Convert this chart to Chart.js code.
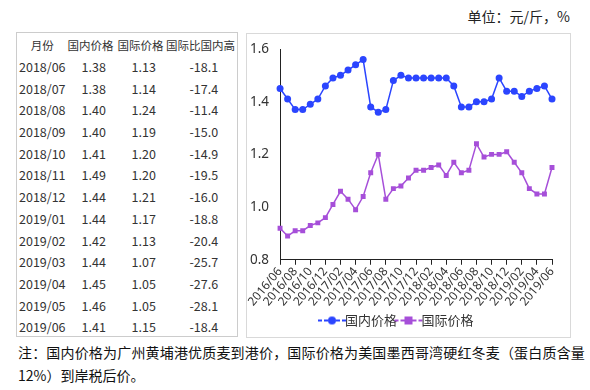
<!DOCTYPE html>
<html>
<head>
<meta charset="utf-8">
<script src="https://cdn.jsdelivr.net/npm/chart.js@4"></script>
<style>
  body { margin: 0; width: 590px; height: 390px; background: #fff; position: relative; font-family: "Noto Sans CJK SC", "Noto Sans", sans-serif; color: #333; }
  #unit { position: absolute; right: 20px; top: 6px; font-size: 14px; color: #222; }
  #tbl { position: absolute; left: 16px; top: 32px; width: 222px; height: 305px; border: 1px solid #ccc; box-sizing: border-box; }
  #tbl table { border-collapse: collapse; font-size: 12.5px; margin-left: 2px; margin-top: 1px; table-layout: fixed; }
  #tbl td, #tbl th { padding: 0; height: 21.7px; font-weight: normal; white-space: nowrap; }
  #tbl th { font-size: 11.5px; }
  #box { position: absolute; left: 246px; top: 33px; width: 325px; height: 305px; border: 1px solid #d9d9d9; box-sizing: border-box; }
  #note { position: absolute; left: 18px; top: 341px; font-size: 14px; line-height: 23px; white-space: nowrap; color: #111; }
</style>
</head>
<body>
<div id="unit">单位：元/斤，%</div>
<div id="tbl"><table id="t"></table></div>
<div id="box"><canvas id="c" width="323" height="303"></canvas></div>
<div id="note"><span id="n1">注：国内价格为广州黄埔港优质麦到港价，国际价格为美国墨西哥湾硬红冬麦（蛋白质含量</span><br>12%）到岸税后价。</div>
<script>
// monthly series, 2016/06 - 2019/06
const months = [
  '2016/06','2016/07','2016/08','2016/09','2016/10','2016/11','2016/12',
  '2017/01','2017/02','2017/03','2017/04','2017/05','2017/06','2017/07','2017/08','2017/09','2017/10','2017/11','2017/12',
  '2018/01','2018/02','2018/03','2018/04','2018/05','2018/06','2018/07','2018/08','2018/09','2018/10','2018/11','2018/12',
  '2019/01','2019/02','2019/03','2019/04','2019/05','2019/06'
];
const domestic = [
  1.45,1.41,1.37,1.37,1.39,1.41,1.46,
  1.49,1.50,1.52,1.54,1.56,1.38,1.36,1.37,1.48,1.50,1.49,1.49,
  1.49,1.49,1.49,1.49,1.46,1.38,1.38,1.40,1.40,1.41,1.49,1.44,
  1.44,1.42,1.44,1.45,1.46,1.41
];
const intl = [
  0.92,0.89,0.91,0.91,0.93,0.94,0.96,
  1.01,1.06,1.03,0.99,1.04,1.13,1.20,1.03,1.07,1.08,1.11,1.14,
  1.14,1.15,1.16,1.12,1.17,1.13,1.14,1.24,1.19,1.20,1.20,1.21,
  1.17,1.13,1.07,1.05,1.05,1.15
];
// table (last 13 months)
const tableHeader = ['月份', '国内价格', '国际价格', '国际比国内高'];
const tableGap = ['-18.1','-17.4','-11.4','-15.0','-14.9','-19.5','-16.0','-18.8','-20.4','-25.7','-27.6','-28.1','-18.4'];
const yTicks = [0.8, 1.0, 1.2, 1.4, 1.6];

const blue = '#2b45ff';
const purple = '#a64fd9';

// stretch first note line to the reference width
const n1 = document.getElementById('n1');
const w = n1.getBoundingClientRect().width;
n1.style.letterSpacing = ((567 - w) / n1.textContent.length) + 'px';

// build the table
const t = document.getElementById('t');
let html = '<tr>';
const widths = [46, 50, 50, 70];
tableHeader.forEach((h, i) => {
  html += '<th style="width:' + widths[i] + 'px;text-align:center">' + h + '</th>';
});
html += '</tr>';
const start = months.length - tableGap.length;
tableGap.forEach((g, i) => {
  const k = start + i;
  html += '<tr><td>' + months[k] + '</td>' +
    '<td style="padding-left:16px">' + domestic[k].toFixed(2) + '</td>' +
    '<td style="padding-left:16px">' + intl[k].toFixed(2) + '</td>' +
    '<td style="padding-left:24px">' + g + '</td></tr>';
});
t.innerHTML = html;

// legend icon: short dashed line with marker in the middle
function legendIcon(color, square) {
  const cv = document.createElement('canvas');
  cv.width = 30; cv.height = 10;
  const g = cv.getContext('2d');
  g.strokeStyle = color; g.lineWidth = 2;
  g.setLineDash([4, 2]);
  g.beginPath(); g.moveTo(1, 5); g.lineTo(29, 5); g.stroke();
  g.fillStyle = color;
  if (square) { g.fillRect(11, 1, 8, 8); }
  else { g.beginPath(); g.arc(15, 5, 4, 0, Math.PI * 2); g.fill(); }
  return cv;
}

const ctx = document.getElementById('c');
const myChart = new Chart(ctx, {
  type: 'line',
  data: {
    labels: months,
    datasets: [{
      label: '国内价格',
      data: domestic,
      borderColor: blue,
      backgroundColor: blue,
      borderWidth: 1.5,
      pointStyle: 'circle',
      pointRadius: 3.5,
      pointBorderWidth: 0
    }, {
      label: '国际价格',
      data: intl,
      borderColor: purple,
      backgroundColor: purple,
      borderWidth: 1.5,
      pointStyle: 'rect',
      pointRadius: 3.5,
      pointBorderWidth: 0
    }]
  },
  options: {
    responsive: false,
    animation: false,
    layout: { padding: { left: 0, right: 18, top: 15, bottom: 0 } },
    plugins: {
      tooltip: { enabled: false },
      legend: {
        position: 'bottom',
        labels: {
          usePointStyle: true,
          color: '#333',
          font: { size: 13, family: '"Noto Sans CJK SC", sans-serif' },
          padding: 5,
          generateLabels: (chart) => chart.data.datasets.map((ds, i) => ({
            text: ds.label,
            pointStyle: legendIcon(ds.borderColor, i === 1),
            fontColor: '#333',
            strokeStyle: ds.borderColor,
            fillStyle: ds.borderColor,
            lineWidth: 0,
            datasetIndex: i
          }))
        }
      }
    },
    scales: {
      x: {
        offset: false,
        grid: { drawOnChartArea: false, color: '#222', tickLength: 5 },
        border: { color: '#222' },
        ticks: {
          autoSkip: false,
          maxRotation: 50,
          minRotation: 50,
          padding: 0,
          color: '#333',
          font: { size: 12, family: '"Noto Sans", sans-serif' },
          callback: function (val, i) { return i % 2 === 0 ? months[i] : null; }
        }
      },
      y: {
        min: 0.8,
        max: 1.6,
        afterBuildTicks: (axis) => { axis.ticks = yTicks.map(v => ({ value: v })); },
        grid: { display: false },
        border: { color: '#222' },
        ticks: {
          color: '#333',
          padding: 3,
          font: { size: 13.5, family: '"Noto Sans", sans-serif' },
          callback: (v) => v.toFixed(1)
        }
      }
    }
  }
});
</script>
</body>
</html>
